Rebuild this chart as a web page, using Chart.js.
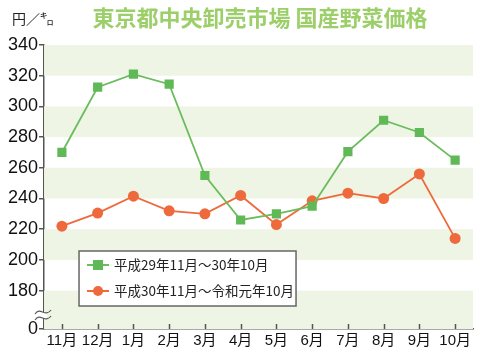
<!DOCTYPE html>
<html>
<head>
<meta charset="utf-8">
<script src="https://cdn.jsdelivr.net/npm/chart.js@4.4.1/dist/chart.umd.min.js"></script>
<style>
  html, body { margin: 0; padding: 0; background: #fff; }
  #wrap { width: 480px; height: 353px; }
</style>
</head>
<body>
<div id="wrap"><canvas id="chart" width="480" height="353"></canvas></div>
<script>
const titleText = '東京都中央卸売市場 国産野菜価格';
const unitText = '円／㌔';
const months = ['11月', '12月', '1月', '2月', '3月', '4月', '5月', '6月', '7月', '8月', '9月', '10月'];
const seriesLabels = ['平成29年11月～30年10月', '平成30年11月～令和元年10月'];
const pricesH29 = [270, 312.5, 321, 314.5, 255, 226, 230, 235, 270.5, 291, 283, 265];
const pricesH30 = [222, 230.5, 241.5, 232, 230, 242, 223, 238.5, 243.5, 240, 256, 214];
const yTicks = [180, 200, 220, 240, 260, 280, 300, 320, 340];
const yBreakMin = 155; // bottom of the broken axis, labelled as 0

const green = '#5fb956';
const orange = '#ee6a3c';
const axisColor = '#555';
const bandColor = '#eff5e4';
const fontLatin = '"Liberation Sans", Arial, "Noto Sans CJK JP", sans-serif';
const fontCjk = '"Noto Sans CJK JP", "Liberation Sans", sans-serif';

const decor = {
  id: 'decor',
  beforeDatasetsDraw(chart) {
    const { ctx, chartArea: a, scales: { y } } = chart;
    ctx.save();
    ctx.fillStyle = bandColor;
    for (let v = yTicks[yTicks.length - 1]; v - 20 >= yBreakMin; v -= 40) {
      // the last band runs down to the broken bottom of the axis
      const low = (v - 40 < yBreakMin) ? yBreakMin : v - 20;
      const t = y.getPixelForValue(v), b = y.getPixelForValue(low);
      ctx.fillRect(a.left, t, a.right - a.left, b - t);
    }
    ctx.restore();
  },
  afterDraw(chart) {
    const { ctx, chartArea: a, scales: { x } } = chart;
    ctx.save();
    // inside tick marks on the x axis
    ctx.strokeStyle = axisColor;
    ctx.lineWidth = 1.5;
    months.forEach((m, i) => {
      const px = Math.round(x.getPixelForTick(i)) + 0.5;
      ctx.beginPath();
      ctx.moveTo(px, a.bottom);
      ctx.lineTo(px, a.bottom - 5);
      ctx.stroke();
    });
    // axis break
    const bx = a.left, by = a.bottom - 14;
    ctx.fillStyle = '#fff';
    ctx.fillRect(bx - 3, by - 3, 6, 6);
    ctx.lineWidth = 1.2;
    [-3, 3].forEach(dy => {
      ctx.beginPath();
      ctx.moveTo(bx - 9, by + dy + 2);
      ctx.bezierCurveTo(bx - 4, by + dy - 6, bx + 1, by + dy + 6, bx + 7, by + dy - 2);
      ctx.stroke();
    });
    // title and unit
    ctx.fillStyle = '#9ccf6a';
    ctx.font = 'bold 22px ' + fontCjk;
    ctx.textAlign = 'center';
    ctx.textBaseline = 'middle';
    ctx.fillText(titleText, 260, 18);
    ctx.fillStyle = '#222';
    ctx.font = '14px ' + fontCjk;
    ctx.textAlign = 'left';
    ctx.fillText(unitText, 12, 19);
    // legend box
    const lx = a.left + 35, ly = a.top + 206, lw = 217, lh = 55;
    ctx.fillStyle = '#fff';
    ctx.fillRect(lx, ly, lw, lh);
    ctx.strokeStyle = '#666';
    ctx.lineWidth = 1.5;
    ctx.strokeRect(lx, ly, lw, lh);
    chart.data.datasets.forEach((ds, i) => {
      const cy = ly + 14 + i * 26;
      ctx.strokeStyle = ds.borderColor;
      ctx.lineWidth = 2;
      ctx.beginPath();
      ctx.moveTo(lx + 8, cy);
      ctx.lineTo(lx + 30, cy);
      ctx.stroke();
      ctx.fillStyle = ds.backgroundColor;
      if (ds.pointStyle === 'rect') {
        ctx.fillRect(lx + 14, cy - 5, 10, 10);
      } else {
        ctx.beginPath();
        ctx.arc(lx + 19, cy, 5, 0, Math.PI * 2);
        ctx.fill();
      }
      ctx.fillStyle = '#222';
      ctx.font = '13.5px ' + fontCjk;
      ctx.textAlign = 'left';
      ctx.textBaseline = 'middle';
      ctx.fillText(ds.label, lx + 35, cy);
    });
    ctx.restore();
  }
};

new Chart(document.getElementById('chart'), {
  type: 'line',
  data: {
    labels: months,
    datasets: [{
      label: seriesLabels[0],
      data: pricesH29,
      borderColor: '#6abd5c',
      backgroundColor: green,
      borderWidth: 1.8,
      pointStyle: 'rect',
      pointRadius: 6.5,
      pointBorderWidth: 0,
      tension: 0
    }, {
      label: seriesLabels[1],
      data: pricesH30,
      borderColor: orange,
      backgroundColor: orange,
      borderWidth: 1.8,
      pointStyle: 'circle',
      pointRadius: 5.5,
      pointBorderWidth: 0,
      tension: 0
    }]
  },
  options: {
    responsive: false,
    animation: false,
    layout: { padding: { top: 45, left: 7, right: 7, bottom: 0 } },
    plugins: {
      legend: { display: false },
      title: { display: false },
      tooltip: { enabled: false }
    },
    scales: {
      x: {
        offset: true,
        grid: { display: false, drawTicks: false },
        border: { color: axisColor, width: 1.5 },
        ticks: {
          color: '#111',
          padding: 3,
          maxRotation: 0,
          autoSkip: false,
          font: { family: fontLatin, size: 15 }
        }
      },
      y: {
        min: yBreakMin,
        max: 340,
        afterBuildTicks(scale) {
          scale.ticks = [yBreakMin].concat(yTicks).map(v => ({ value: v }));
        },
        grid: {
          drawOnChartArea: false,
          drawTicks: true,
          tickLength: 5,
          color: axisColor,
          lineWidth: 1.5
        },
        border: { color: axisColor, width: 1.5 },
        ticks: {
          color: '#111',
          padding: 1,
          font: { family: fontLatin, size: 18 },
          callback: v => (v === yBreakMin ? '0' : v)
        }
      }
    }
  },
  plugins: [decor]
});
</script>
</body>
</html>
